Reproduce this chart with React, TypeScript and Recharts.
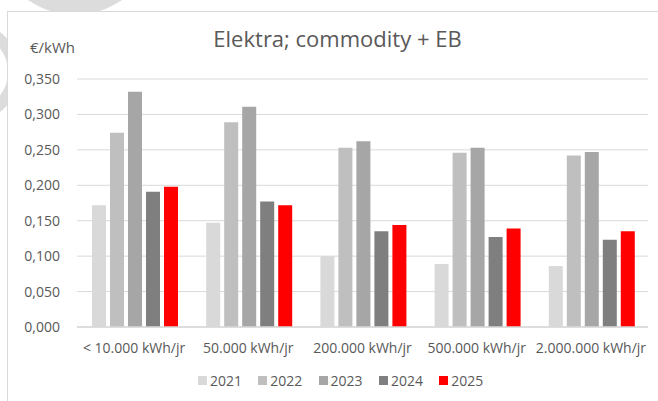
import React from 'react';
import { BarChart, Bar, XAxis, YAxis, CartesianGrid } from 'recharts';

// Chart data
const categories = [
  '< 10.000 kWh/jr',
  '50.000 kWh/jr',
  '200.000 kWh/jr',
  '500.000 kWh/jr',
  '2.000.000 kWh/jr',
];
const years = ['2021', '2022', '2023', '2024', '2025'];
const values2021 = [0.172, 0.147, 0.1, 0.089, 0.086];
const values2022 = [0.274, 0.289, 0.253, 0.246, 0.242];
const values2023 = [0.332, 0.311, 0.262, 0.253, 0.247];
const values2024 = [0.191, 0.177, 0.135, 0.127, 0.123];
const values2025 = [0.198, 0.172, 0.144, 0.139, 0.135];
const yTicks = [0, 0.05, 0.1, 0.15, 0.2, 0.25, 0.3, 0.35];

const SERIES = [values2021, values2022, values2023, values2024, values2025];
const COLORS = ['#d9d9d9', '#bfbfbf', '#a6a6a6', '#7f7f7f', '#ff0000'];

const TEXT = '#595959';
const FONT = '"Open Sans", sans-serif';

const chartData = categories.map((name, i) => {
  const row: Record<string, string | number> = { name };
  years.forEach((y, s) => {
    row[y] = SERIES[s][i];
  });
  return row;
});

const fmt = (v: number) => v.toFixed(3).replace('.', ',');

export default function App() {
  return (
    <div
      style={{
        position: 'absolute',
        left: 0,
        top: 0,
        width: 658,
        height: 401,
        overflow: 'hidden',
        background: '#fff',
        fontFamily: FONT,
      }}
    >
      {/* faint watermark behind the chart */}
      <svg width={658} height={401} style={{ position: 'absolute', left: 0, top: 0 }}>
        <circle cx={75} cy={-66} r={81} fill="#dcdcdc" />
        <circle cx={-30} cy={72} r={44} fill="none" stroke="#dcdcdc" strokeWidth={12} />
      </svg>

      {/* chart frame */}
      <div
        style={{
          position: 'absolute',
          left: 7,
          top: 11,
          width: 700,
          height: 500,
          border: '1.5px solid #d9d9d9',
          background: '#fff',
        }}
      />

      <div
        style={{
          position: 'absolute',
          left: 0,
          top: 23,
          width: 675,
          textAlign: 'center',
          fontSize: 22,
          color: TEXT,
        }}
      >
        Elektra; commodity + EB
      </div>
      <div style={{ position: 'absolute', left: 30, top: 37, fontSize: 15, color: TEXT }}>
        €/kWh
      </div>

      <div style={{ position: 'absolute', left: 0, top: 0 }}>
        <BarChart
          width={658}
          height={401}
          data={chartData}
          margin={{ top: 79, right: 10, bottom: 44, left: 0 }}
          barGap={4}
          barCategoryGap={15}
        >
          <CartesianGrid vertical={false} stroke="#d9d9d9" />
          <XAxis
            dataKey="name"
            height={30}
            tickLine={false}
            tickSize={0}
            tickMargin={16}
            axisLine={{ stroke: '#d9d9d9', strokeWidth: 1.5 }}
            tick={{ fill: TEXT, fontSize: 14, fontFamily: FONT }}
            interval={0}
          />
          <YAxis
            width={77}
            domain={[0, 0.35]}
            ticks={yTicks}
            tickFormatter={fmt}
            tickLine={false}
            tickSize={0}
            tickMargin={17}
            axisLine={false}
            tick={{ fill: TEXT, fontSize: 14, fontFamily: FONT }}
          />
          {years.map((y, s) => (
            <Bar key={y} dataKey={y} fill={COLORS[s]} isAnimationActive={false} />
          ))}
        </BarChart>
      </div>

      {/* legend */}
      <div
        style={{
          position: 'absolute',
          left: 198,
          top: 371,
          display: 'flex',
          fontSize: 14,
          color: TEXT,
        }}
      >
        {years.map((y, s) => (
          <div key={y} style={{ display: 'flex', alignItems: 'center', width: 60.3 }}>
            <span
              style={{
                display: 'inline-block',
                width: 9,
                height: 9,
                background: COLORS[s],
                marginRight: 3,
              }}
            />
            <span>{y}</span>
          </div>
        ))}
      </div>
    </div>
  );
}
